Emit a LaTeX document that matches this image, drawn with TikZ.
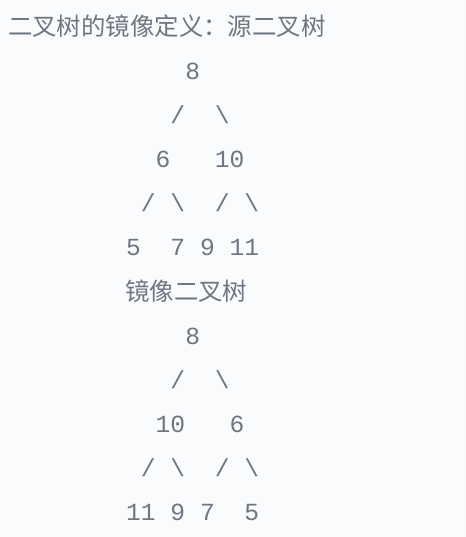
\documentclass[tikz,border=0pt]{standalone}
\usepackage{fontspec}
\setmonofont{Liberation Mono}
\newfontfamily\cjkfont{Noto Sans CJK SC}
\usetikzlibrary{positioning}
\definecolor{codegray}{RGB}{110,119,129}
\definecolor{codebg}{RGB}{250,251,252}
\tikzset{
  codeline/.style={anchor=base west,inner sep=0pt,text=codegray,
    font=\fontsize{24.6}{24.6}\selectfont\ttfamily},
  cjkline/.style={anchor=base west,inner sep=0pt,text=codegray,
    font=\fontsize{24.4}{24.4}\selectfont\cjkfont}
}

\begin{document}
\begin{tikzpicture}[x=1pt,y=-1pt]
\fill[codebg] (0,0) rectangle (465,537);
\useasboundingbox (0,0) rectangle (465,537);
% source tree
\node[cjkline] (title) at (8,36) {二叉树的镜像定义：源二叉树};
\node[codeline] (srcroot) at (126,79.5) {~~~~8};
\node[codeline] (srcedge) at (126,123.6) {~~~/~~\textbackslash};
\node[codeline] (srcmid) at (126,167.7) {~~6~~~10};
\node[codeline] (srcedges) at (126,211.8) {~/~\textbackslash~~/~\textbackslash};
\node[codeline] (srcleaf) at (126,255.9) {5~~7~9~11};
% mirror tree
\node[cjkline] (mirtitle) at (125,300) {镜像二叉树};
\node[codeline] (mirroot) at (126,344.1) {~~~~8};
\node[codeline] (miredge) at (126,388.2) {~~~/~~\textbackslash};
\node[codeline] (mirmid) at (126,432.3) {~~10~~~6};
\node[codeline] (miredges) at (126,476.4) {~/~\textbackslash~~/~\textbackslash};
\node[codeline] (mirleaf) at (126,520.5) {11~9~7~~5};
\end{tikzpicture}
\end{document}
